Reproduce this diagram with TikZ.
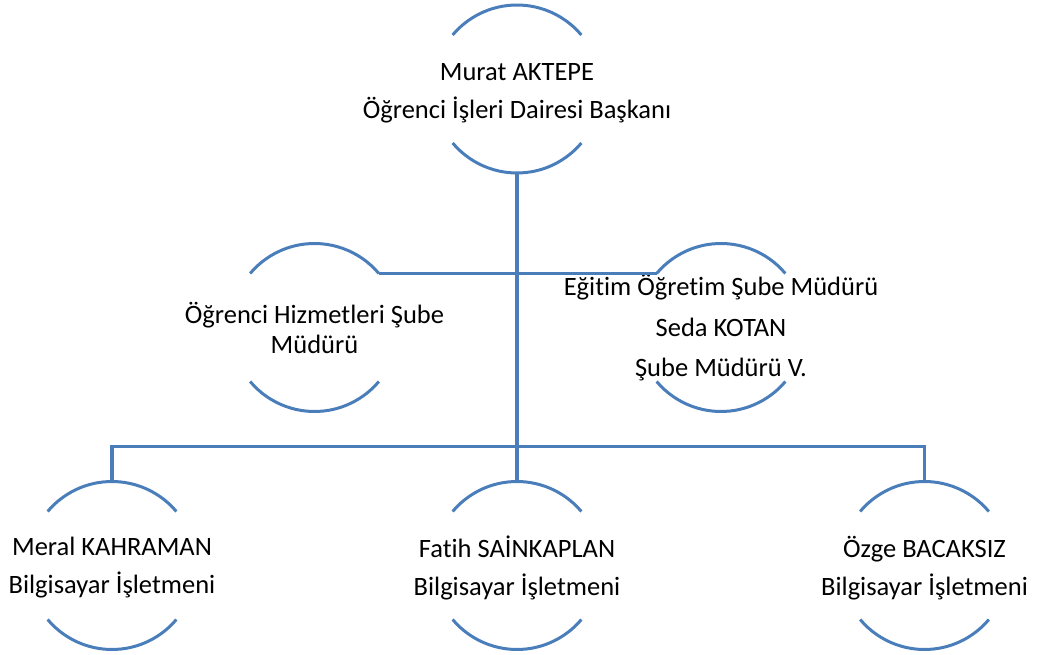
\documentclass[tikz,border=0pt]{standalone}
\usepackage{fontspec}
\setmainfont{Carlito}[Ligatures=NoCommon]
\definecolor{linkblue}{RGB}{74,126,187}
\begin{document}
\begin{tikzpicture}[x=1pt,y=1pt,
  ring/.style={circle,minimum size=168pt,inner sep=0pt,outer sep=0pt},
  arcline/.style={draw=linkblue,line width=3pt},
  conn/.style={draw=linkblue,line width=3.2pt},
  lbl/.style={align=center,inner sep=0pt,font=\fontsize{26.5}{38}\selectfont}]
\useasboundingbox (0,0) rectangle (1038,654);
% ring centres
\node[ring] (top) at (517,565) {};
\node[ring] (ml) at (314.5,326.5) {};
\node[ring] (mr) at (721,326.5) {};
\node[ring] (bl) at (112,88.5) {};
\node[ring] (bm) at (517,88.5) {};
\node[ring] (br) at (924.5,88.5) {};
% arcs
\foreach \n in {top,ml,mr,bl,bm,br}{
  \draw[arcline] (\n.40) arc[start angle=40,end angle=140,radius=84pt];
  \draw[arcline] (\n.220) arc[start angle=220,end angle=320,radius=84pt];
}
% texts
\node[lbl] (topt) at (517,561) {Murat AKTEPE\\Öğrenci İşleri Dairesi Başkanı};
\node[lbl,font=\fontsize{26.5}{30}\selectfont] (mlt) at (314.5,326.5) {Öğrenci Hizmetleri Şube\\Müdürü};
\node[lbl,font=\fontsize{26.5}{40.5}\selectfont] (mrt) at (721,326) {Eğitim Öğretim Şube Müdürü\\Seda KOTAN\\Şube Müdürü V.};
\node[lbl] (blt) at (112,86) {Meral KAHRAMAN\\Bilgisayar İşletmeni};
\node[lbl] (bmt) at (517,86) {Fatih SAİNKAPLAN\\Bilgisayar İşletmeni};
\node[lbl] (brt) at (924.5,86) {Özge BACAKSIZ\\Bilgisayar İşletmeni};
% connectors
\coordinate (bus) at (517,207.5);
\draw[conn] (top.south) -- (bm.north);
\draw[conn] (ml.40) -- (mr.140);
\draw[conn] (bl.north) -- (bl.north |- bus) -- (br.north |- bus) -- (br.north);
\end{tikzpicture}
\end{document}
